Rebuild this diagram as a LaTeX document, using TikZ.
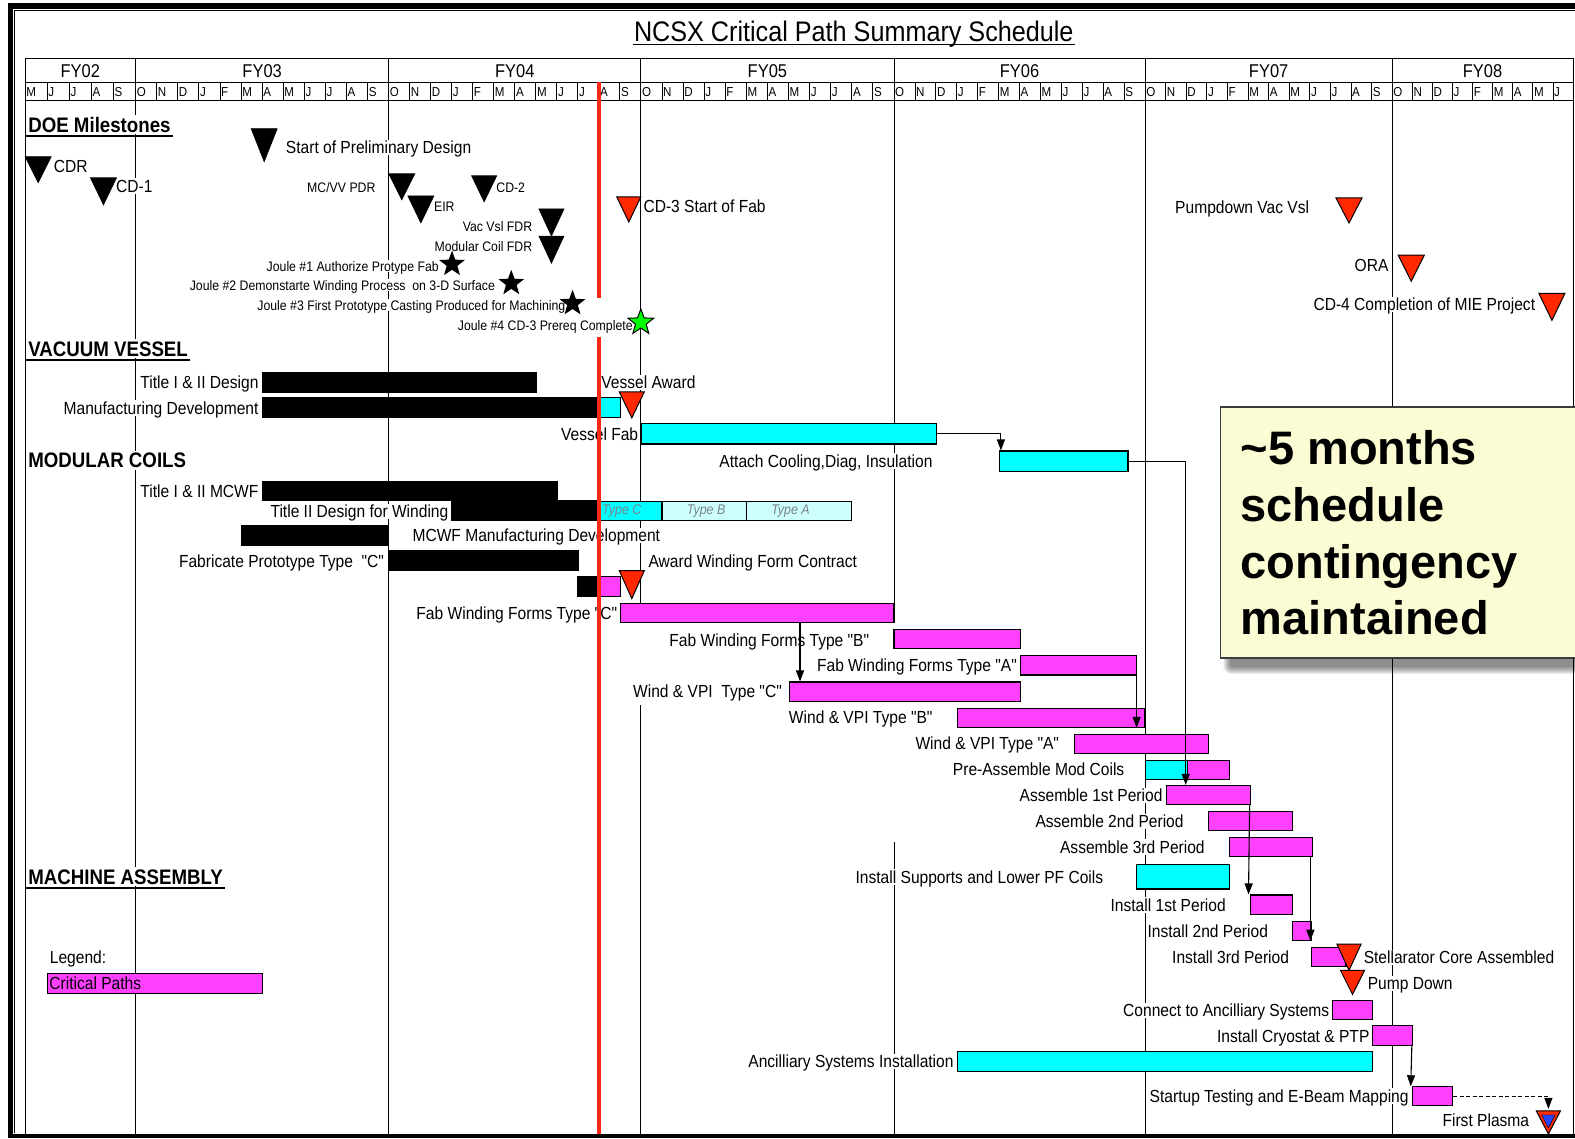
\documentclass[tikz,border=0pt]{standalone}
\usepackage{fontspec}
\setmainfont{Liberation Sans}
\newfontfamily\nar[FakeStretch=0.89]{Liberation Sans}
\usetikzlibrary{shapes.geometric,fit,arrows.meta,calc}
\definecolor{cy}{RGB}{0,255,255}
\definecolor{lcy}{RGB}{205,255,255}
\definecolor{mg}{RGB}{255,64,255}
\definecolor{rd}{RGB}{255,40,0}
\definecolor{rl}{RGB}{255,40,20}
\definecolor{yel}{RGB}{252,252,212}
\definecolor{bl}{RGB}{40,70,255}
\definecolor{tg}{RGB}{120,130,140}
\newcommand\fymonths[4]{%
  \foreach \L [count=\k from 0] in {#4} {
    \draw[gridl] ({#2+#3*\k},82) -- ({#2+#3*\k},100);
    \node[mon, anchor=west] (#1-\k) at ({#2+#3*\k+1},91.5) {\L};
  }}
\newcommand\mtri[5]{\filldraw[#5] ({#1-#2},#3) -- ({#1+#2},#3) -- (#1,#4) -- cycle;}
\begin{document}
\begin{tikzpicture}[x=1.00446pt,y=-1.00446pt,
  lbl/.style={font=\nar\fontsize{17.5}{17.5}\selectfont, inner sep=1.5pt, text height=12.5pt, text depth=0pt, fill=white},
  slbl/.style={font=\nar\fontsize{13.8}{13.8}\selectfont, inner sep=1pt, text height=9.9pt, text depth=0pt, fill=white},
  hdg/.style={font=\nar\bfseries\fontsize{21}{21}\selectfont, inner sep=2pt, text height=15pt, text depth=0pt, fill=white, anchor=west},
  mon/.style={font=\nar\fontsize{13}{13}\selectfont, inner sep=0pt, text height=9.3pt, text depth=0pt},
  fy/.style={font=\nar\fontsize{18.5}{18.5}\selectfont, inner sep=0pt, text height=13.2pt, text depth=0pt},
  gridl/.style={line width=0.8pt, black},
  bar/.style={draw=black, line width=1.1pt, inner sep=0pt},
  typ/.style={font=\nar\itshape\fontsize{14}{14}\selectfont, text=tg, inner sep=0pt},
  conn/.style={line width=1.1pt, -{Triangle[length=11pt,width=8pt]}},
  blk/.style={fill=black, draw=black, line width=0.6pt},
  red/.style={fill=rd, draw=black, line width=1pt, line join=miter},
  jstar/.style={star, star points=5, star point ratio=2.4, inner sep=0pt, minimum size=27pt, fill=black},
  cal/.style={font=\bfseries\fontsize{47}{47}\selectfont, inner sep=0pt, anchor=base west}
]
\useasboundingbox (0,0) rectangle (1568,1133);
% page frame
\fill[black] (8,2.7) rectangle (1568,9);
\fill[black] (8,2.7) rectangle (12.7,1133);
\fill[black] (8,1128.5) rectangle (1568,1133);
\draw[line width=1.2pt] (14.5,1128) -- (14.5,10.5) -- (1568,10.5);
% title
\node[font=\nar\fontsize{28.3}{28.3}\selectfont, inner sep=1pt, text height=20pt, text depth=0pt] (title) at (850,31) {NCSX Critical Path Summary Schedule};
\draw[line width=1.5pt] ([yshift=-2pt]title.south west) -- ([yshift=-2pt]title.south east);
% header grid
\draw[gridl] (25,58) rectangle (1566,100);
\draw[gridl] (25,82) -- (1566,82);
\foreach \xx in {135,387,638,890,1140,1386} \draw[gridl] (\xx,58) -- (\xx,100);
\node[fy] (fy02) at (80,71) {FY02};
\node[fy] (fy03) at (261,71) {FY03};
\node[fy] (fy04) at (512.5,71) {FY04};
\node[fy] (fy05) at (764,71) {FY05};
\node[fy] (fy06) at (1015,71) {FY06};
\node[fy] (fy07) at (1263,71) {FY07};
\node[fy] (fy08) at (1476,71) {FY08};
\fymonths{m02}{25}{22}{M,J,J,A,S}
\fymonths{m03}{135}{21}{O,N,D,J,F,M,A,M,J,J,A,S}
\fymonths{m04}{387}{20.917}{O,N,D,J,F,M,A,M,J,J,A,S}
\fymonths{m05}{638}{21}{O,N,D,J,F,M,A,M,J,J,A,S}
\fymonths{m06}{890}{20.833}{O,N,D,J,F,M,A,M,J,J,A,S}
\fymonths{m07}{1140}{20.5}{O,N,D,J,F,M,A,M,J,J,A,S}
\fymonths{m08}{1386}{20}{O,N,D,J,F,M,A,M,J}
% body grid lines
\draw[gridl] (25,100) -- (25,1129);
\draw[gridl] (1566,100) -- (1566,1129);
\foreach \xx in {135,387,1140,1386} \draw[gridl] (\xx,100) -- (\xx,1129);
\draw[gridl] (638,100) -- (638,620) (638,702) -- (638,1129);
\draw[gridl] (890,100) -- (890,620) (890,838) -- (890,1129);
% section headings
\node[hdg] (doe) at (26,124) {DOE Milestones};
\draw[line width=2.5pt] ([yshift=-1.5pt]doe.south west) -- ([yshift=-1.5pt]doe.south east);
\node[hdg] (vv) at (26,347) {VACUUM VESSEL};
\draw[line width=2.5pt] ([yshift=-1.5pt]vv.south west) -- ([yshift=-1.5pt]vv.south east);
\node[hdg] (mc) at (26,458) {MODULAR COILS};
\node[hdg] (ma) at (26,873) {MACHINE ASSEMBLY};
\draw[line width=2.5pt] ([yshift=-1.5pt]ma.south west) -- ([yshift=-1.5pt]ma.south east);
% milestone labels
\node[lbl, anchor=west] (lcdr) at (52,166) {CDR};
\node[lbl, anchor=west] (lcd1) at (114,185) {CD-1};
\node[lbl, anchor=west] (lspd) at (283,147) {Start of Preliminary Design};
\node[slbl, anchor=east] (lpdr) at (375,187) {MC/VV PDR};
\node[slbl, anchor=west] (leir) at (431,206) {EIR};
\node[slbl, anchor=west] (lcd2) at (493,187) {CD-2};
\node[slbl, anchor=east] (lvvf) at (531,226) {Vac Vsl FDR};
\node[slbl, anchor=east] (lmcf) at (531,245) {Modular Coil FDR};
\node[slbl, anchor=east] (lj1) at (438,265) {Joule \#1 Authorize Protype Fab};
\node[slbl, anchor=east] (lj2) at (494,284) {Joule \#2 Demonstarte Winding Process\ \ on 3-D Surface};
\node[slbl, anchor=east] (lj3) at (564,304) {Joule \#3 First Prototype Casting Produced for Machining};
\node[slbl, anchor=east] (lj4) at (631,324) {Joule \#4 CD-3 Prereq Complete};
\node[lbl, anchor=west] (lcd3) at (639,205) {CD-3 Start of Fab};
\node[lbl, anchor=east] (lpvv) at (1305,206) {Pumpdown Vac Vsl};
\node[lbl, anchor=east] (lora) at (1384,264) {ORA};
\node[lbl, anchor=east] (lcd4) at (1530,303) {CD-4 Completion of MIE Project};
% task labels
\node[lbl, anchor=east] (l1) at (259,381) {Title I \& II Design};
\node[lbl, anchor=east] (l2) at (259,406) {Manufacturing Development};
\node[lbl, anchor=west] (l2b) at (597,381) {Vessel Award};
\node[lbl, anchor=east] (l3) at (637,432) {Vessel Fab};
\node[lbl, anchor=east] (l4) at (930,459) {Attach Cooling,Diag, Insulation};
\node[lbl, anchor=east] (l5) at (259,489) {Title I \& II MCWF};
\node[lbl, anchor=east] (l6) at (448,509) {Title II Design for Winding};
\node[lbl, anchor=west] (l7) at (409,533) {MCWF Manufacturing Development};
\node[lbl, anchor=east] (l8) at (384,559) {Fabricate Prototype Type\ \ "C"};
\node[lbl, anchor=west] (l8b) at (644,559) {Award Winding Form Contract};
\node[lbl, anchor=east] (l9) at (616,611) {Fab Winding Forms Type "C"};
\node[lbl, anchor=east] (l10) at (867,637) {Fab Winding Forms Type "B"};
\node[lbl, anchor=east] (l11) at (1014,662) {Fab Winding Forms Type "A"};
\node[lbl, anchor=east] (l12) at (780,688) {Wind \& VPI\ \ Type "C"};
\node[lbl, anchor=east] (l13) at (930,714) {Wind \& VPI Type "B"};
\node[lbl, anchor=east] (l14) at (1056,740) {Wind \& VPI Type "A"};
\node[lbl, anchor=east] (l15) at (1121,766) {Pre-Assemble Mod Coils};
\node[lbl, anchor=east] (l16) at (1159,792) {Assemble 1st Period};
\node[lbl, anchor=east] (l17) at (1180,818) {Assemble 2nd Period};
\node[lbl, anchor=east] (l18) at (1201,843) {Assemble 3rd Period};
\node[lbl, anchor=east] (l19) at (1100,873) {Install Supports and Lower PF Coils};
\node[lbl, anchor=east] (l20) at (1222,901) {Install 1st Period};
\node[lbl, anchor=east] (l21) at (1264,927) {Install 2nd Period};
\node[lbl, anchor=east] (l22) at (1285,953) {Install 3rd Period};
\node[lbl, anchor=west] (l22b) at (1356,953) {Stellarator Core Assembled};
\node[lbl, anchor=west] (l22c) at (1360,979) {Pump Down};
\node[lbl, anchor=east] (l23) at (1325,1006) {Connect to Ancilliary Systems};
\node[lbl, anchor=east] (l24) at (1365,1032) {Install Cryostat \& PTP};
\node[lbl, anchor=east] (l25) at (951,1057) {Ancilliary Systems Installation};
\node[lbl, anchor=east] (l26) at (1404,1091) {Startup Testing and E-Beam Mapping};
\node[lbl, anchor=east] (l27) at (1524,1115) {First Plasma};
\node[lbl, anchor=west] (leg) at (48,953) {Legend:};
% bars
\node[bar, fill=black, fit={(261,371) (534,391)}] (t12d) {};
\node[bar, fill=black, fit={(261,396) (598,416)}] (mfgd) {};
\node[bar, fill=cy, fit={(598,396) (618,416)}] (mfgc) {};
\node[bar, fill=cy, fit={(639,422) (932,442)}] (vfab) {};
\node[bar, fill=cy, fit={(995,449) (1123,469)}] (acd) {};
\node[bar, fill=black, fit={(261,479) (555,498)}] (mcwf) {};
\node[bar, fill=black, fit={(450,498) (598,518)}] (t2dw) {};
\node[bar, fill=cy, fit={(598,499) (659,518)}] (tyc) {};
\node[bar, fill=lcy, fit={(659,499) (743,518)}] (tyb) {};
\node[bar, fill=lcy, fit={(743,499) (848,518)}] (tya) {};
\node[typ] (ttc) at (619,509) {Type C};
\node[typ] (ttb) at (703,509) {Type B};
\node[typ] (tta) at (787,509) {Type A};
\node[bar, fill=black, fit={(240,523) (387,543)}] (mcmd) {};
\node[bar, fill=black, fit={(387,548) (576,568)}] (fpro) {};
\node[bar, fill=black, fit={(575,574) (598,594)}] (smk) {};
\node[bar, fill=mg, fit={(598,574) (618,594)}] (smm) {};
\node[bar, fill=mg, fit={(618,601) (890,620)}] (fwfc) {};
\node[bar, fill=mg, fit={(890,627) (1016,646)}] (fwfb) {};
\node[bar, fill=mg, fit={(1016,653) (1131,672)}] (fwfa) {};
\node[bar, fill=mg, fit={(786,679) (1016,698)}] (wvc) {};
\node[bar, fill=mg, fit={(953,705) (1139,724)}] (wvb) {};
\node[bar, fill=mg, fit={(1070,731) (1203,750)}] (wva) {};
\node[bar, fill=cy, fit={(1140,757) (1182,776)}] (prec) {};
\node[bar, fill=mg, fit={(1182,757) (1224,776)}] (prem) {};
\node[bar, fill=mg, fit={(1161,782) (1245,801)}] (asm1) {};
\node[bar, fill=mg, fit={(1203,808) (1287,827)}] (asm2) {};
\node[bar, fill=mg, fit={(1224,834) (1307,853)}] (asm3) {};
\node[bar, fill=cy, fit={(1131,861) (1224,885)}] (isup) {};
\node[bar, fill=mg, fit={(1245,891) (1287,910)}] (ins1) {};
\node[bar, fill=mg, fit={(1287,917) (1306,936)}] (ins2) {};
\node[bar, fill=mg, fit={(1306,943) (1340,962)}] (ins3) {};
\node[bar, fill=mg, fit={(1327,996) (1366,1015)}] (cnx) {};
\node[bar, fill=mg, fit={(1366,1021) (1406,1041)}] (cryo) {};
\node[bar, fill=cy, fit={(953,1047) (1366,1067)}] (anc) {};
\node[bar, fill=mg, fit={(1406,1082) (1446,1101)}] (stt) {};
\node[bar, fill=mg, fit={(47,969) (261,989)}] (legbar) {};
\node[lbl, fill=none, anchor=west, inner sep=0pt] (legtxt) at (49,979) {Critical Paths};
% connectors
\coordinate (fptop) at (1541.5,1104);
\draw[conn] (vfab.east) -| ($(acd.north west)+(2,0)$);
\draw[conn] (acd.east) -| ($(asm1.north west)+(20,0)$);
\draw[conn] ($(fwfc.south west)+(179,0)$) -- ($(wvc.north west)+(11,0)$);
\draw[conn] ($(fwfa.south east)+(0,0)$) -- ($(wvb.south east)+(-8,0)$);
\draw[conn] ($(asm1.south east)+(-1.5,0)$) -- ($(ins1.north west)+(-1.5,0)$);
\draw[conn] ($(asm3.south east)+(-3,0)$) -- ($(ins2.south east)+(-2,0)$);
\draw[conn] ($(cryo.south east)+(-1,0)$) -- ($(stt.north west)+(-1,0)$);
\draw[conn, dashed, dash pattern=on 4pt off 2.5pt] (stt.east) -| (fptop);
% milestones
\mtri{38}{13}{156}{182}{blk}
\mtri{103}{13}{177}{204}{blk}
\mtri{263}{13}{128}{161}{blk}
\mtri{400}{13}{173}{199}{blk}
\mtri{419}{13}{195}{222}{blk}
\mtri{482}{12.5}{175}{201}{blk}
\mtri{549}{12.5}{208}{235}{blk}
\mtri{549}{12.5}{235}{262}{blk}
\node[jstar] (j1) at (450,263) {};
\node[jstar] (j2) at (509,282) {};
\node[jstar] (j3) at (570,302) {};
\node[jstar, fill=green, draw=black, line width=1pt] (j4) at (638,321) {};
\mtri{626}{12}{196}{221}{red}
\mtri{1343}{13}{197}{222}{red}
\mtri{1405}{13}{254}{280}{red}
\mtri{1545}{13}{292}{319}{red}
\mtri{629}{12.5}{390}{416}{red}
\mtri{629}{12.5}{568}{596}{red}
\mtri{1343}{12}{940}{966}{red}
\mtri{1346.5}{12}{966}{990}{red}
\mtri{1541.5}{12}{1106}{1129}{red}
\mtri{1541.5}{6.5}{1110}{1123}{fill=bl}
% status line
\draw[rl, line width=4pt] (596,82) -- (596,297) (596,335) -- (596,1129);
% callout
\foreach \i in {1,...,8}
  \fill[black, opacity=0.07, rounded corners={(9-\i)*1pt}] ({1215+2+\i},{405+6+\i}) rectangle (1575,{655+17-\i});
\node[draw={rgb,255:red,60;green,60;blue,60}, line width=1.4pt, fill=yel, fit={(1215,405) (1572,655)}, inner sep=0pt] (box) {};
\node[cal] (c1) at (1235,462) {\textasciitilde5 months};
\node[cal] (c2) at (1235,519) {schedule};
\node[cal] (c3) at (1235,576) {contingency};
\node[cal] (c4) at (1235,632) {maintained};
\end{tikzpicture}
\end{document}
